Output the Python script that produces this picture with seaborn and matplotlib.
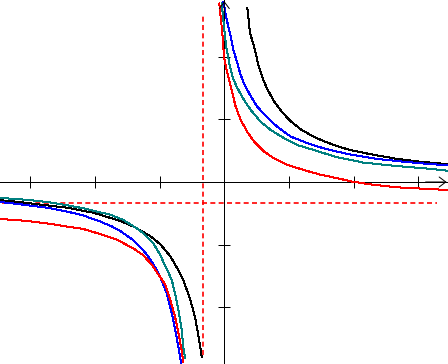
import matplotlib
matplotlib.use("Agg")
import matplotlib.pyplot as plt
import seaborn as sns

# asymptotes (dashed red lines) and tick positions
asym_x = -1 / 3
asym_y = -1 / 3
x_ticks = [-3, -2, -1, 1, 2, 3]
y_ticks = [-2, -1, 1, 2]

# black curve, right and left branch
black_rx = [0.355, 0.397, 0.474, 0.526, 0.594, 0.665, 0.768, 0.896, 1.026, 1.181,
            1.386, 1.541, 1.722, 1.943, 2.252, 2.665, 3.025, 3.457]
black_ry = [2.78, 2.38, 2.11, 1.86, 1.65, 1.48, 1.29, 1.11, 0.97, 0.84,
            0.72, 0.65, 0.58, 0.51, 0.445, 0.37, 0.325, 0.285]
black_lx = [-3.467, -3.158, -2.849, -2.436, -2.025, -1.612, -1.406, -1.148, -0.994,
            -0.839, -0.736, -0.634, -0.530, -0.453, -0.402, -0.365, -0.349]
black_ly = [-0.29, -0.32, -0.36, -0.41, -0.49, -0.62, -0.71, -0.86, -0.99,
            -1.18, -1.36, -1.57, -1.86, -2.16, -2.44, -2.68, -2.79]

# red curve
red_rx = [-0.077, -0.051, -0.030, -0.012, 0.000, 0.046, 0.099, 0.176, 0.253, 0.355,
          0.459, 0.614, 0.768, 0.974, 1.232, 1.490, 1.726, 1.994, 2.314, 2.674,
          3.230, 3.457]
red_ry = [2.85, 2.58, 2.37, 2.11, 1.97, 1.74, 1.52, 1.20, 0.99, 0.80,
          0.645, 0.485, 0.378, 0.275, 0.19, 0.115, 0.065, 0.003, -0.045, -0.085,
          -0.115, -0.128]
red_lx = [-3.467, -3.054, -2.745, -2.436, -2.179, -1.921, -1.663, -1.406, -1.252,
          -1.122, -0.917, -0.839, -0.762, -0.711, -0.658, -0.634]
red_ly = [-0.59, -0.62, -0.66, -0.71, -0.75, -0.83, -0.92, -1.06, -1.17,
          -1.32, -1.63, -1.87, -2.15, -2.40, -2.70, -2.88]

# blue curve
blue_rx = [-0.015, 0.037, 0.088, 0.139, 0.192, 0.243, 0.304, 0.408, 0.510, 0.665,
           0.819, 1.026, 1.283, 1.541, 1.726, 1.943, 2.355, 2.665, 3.025, 3.457]
blue_ry = [2.88, 2.59, 2.37, 2.11, 1.93, 1.74, 1.57, 1.37, 1.20, 1.03,
           0.88, 0.725, 0.62, 0.535, 0.49, 0.44, 0.37, 0.335, 0.30, 0.265]
blue_lx = [-3.467, -3.158, -2.745, -2.436, -2.179, -1.921, -1.736, -1.612, -1.406,
           -1.252, -1.148, -1.045, -0.968, -0.890, -0.813, -0.747, -0.696, -0.669]
blue_ly = [-0.32, -0.355, -0.41, -0.47, -0.535, -0.63, -0.71, -0.78, -0.93,
           -1.09, -1.23, -1.40, -1.57, -1.78, -2.09, -2.42, -2.72, -2.89]

# teal curve
teal_rx = [-0.040, -0.015, 0.011, 0.037, 0.088, 0.139, 0.201, 0.304, 0.408, 0.563,
           0.717, 0.923, 1.128, 1.386, 1.726, 2.148, 2.665, 3.128, 3.457]
teal_ry = [2.85, 2.59, 2.32, 2.11, 1.84, 1.64, 1.50, 1.31, 1.15, 0.96,
           0.83, 0.70, 0.59, 0.51, 0.40, 0.31, 0.255, 0.215, 0.18]
teal_lx = [-3.467, -3.158, -2.952, -2.694, -2.436, -2.179, -1.921, -1.767, -1.561,
           -1.354, -1.252, -1.097, -0.994, -0.890, -0.813, -0.762, -0.711, -0.658,
           -0.634, -0.607]
teal_ly = [-0.255, -0.275, -0.295, -0.325, -0.37, -0.42, -0.485, -0.52, -0.605,
           -0.74, -0.82, -0.98, -1.16, -1.39, -1.56, -1.78, -2.04, -2.36,
           -2.63, -2.81]

sns.set_theme(style="white")
plt.rcParams["lines.antialiased"] = False

fig = plt.figure(figsize=(4.48, 3.64), dpi=100)
ax = fig.add_axes([0, 0, 1, 1])
ax.set_facecolor("white")

# axes through the origin
for side in ["top", "right"]:
    ax.spines[side].set_visible(False)
for side in ["left", "bottom"]:
    ax.spines[side].set_position(("data", 0))
    ax.spines[side].set_color("black")
    ax.spines[side].set_linewidth(0.72)
    ax.spines[side].set_antialiased(False)
ax.set_xticks(x_ticks)
ax.set_yticks(y_ticks)
ax.tick_params(bottom=True, left=True, direction="inout", length=8.6, width=0.72,
               colors="black", labelbottom=False, labelleft=False)

# asymptotes
dash = (0, (3, 2))
ax.axvline(asym_x, ymin=0.025, ymax=0.962, color="#ff0000", lw=1.2, ls=dash,
           antialiased=True, zorder=2)
ax.axhline(asym_y, xmin=0.005, xmax=0.975, color="#ff0000", lw=1.2, ls=dash,
           antialiased=True, zorder=2)

curves = [
    (black_rx, black_ry, "black"), (black_lx, black_ly, "black"),
    (blue_rx, blue_ry, "blue"), (blue_lx, blue_ly, "blue"),
    (teal_rx, teal_ry, "#008080"), (teal_lx, teal_ly, "#008080"),
    (red_rx, red_ry, "red"), (red_lx, red_ly, "red"),
]
for xs, ys, col in curves:
    sns.lineplot(x=xs, y=ys, sort=False, estimator=None, color=col, lw=0.72,
                 antialiased=False, zorder=3, ax=ax)

ax.set_xlim(-3.467, 3.457)
ax.set_ylim(-2.905, 2.905)

# arrow heads on the axes
arrow = dict(arrowstyle="->,head_length=0.4,head_width=0.3", color="black",
             lw=0.72, shrinkA=0, shrinkB=0)
ax.annotate("", xy=(0.997, 0), xycoords=("axes fraction", "data"),
            xytext=(0.95, 0), textcoords=("axes fraction", "data"), arrowprops=arrow)
ax.annotate("", xy=(0, 0.997), xycoords=("data", "axes fraction"),
            xytext=(0, 0.95), textcoords=("data", "axes fraction"), arrowprops=arrow)

fig.savefig("out.png", dpi=100)
